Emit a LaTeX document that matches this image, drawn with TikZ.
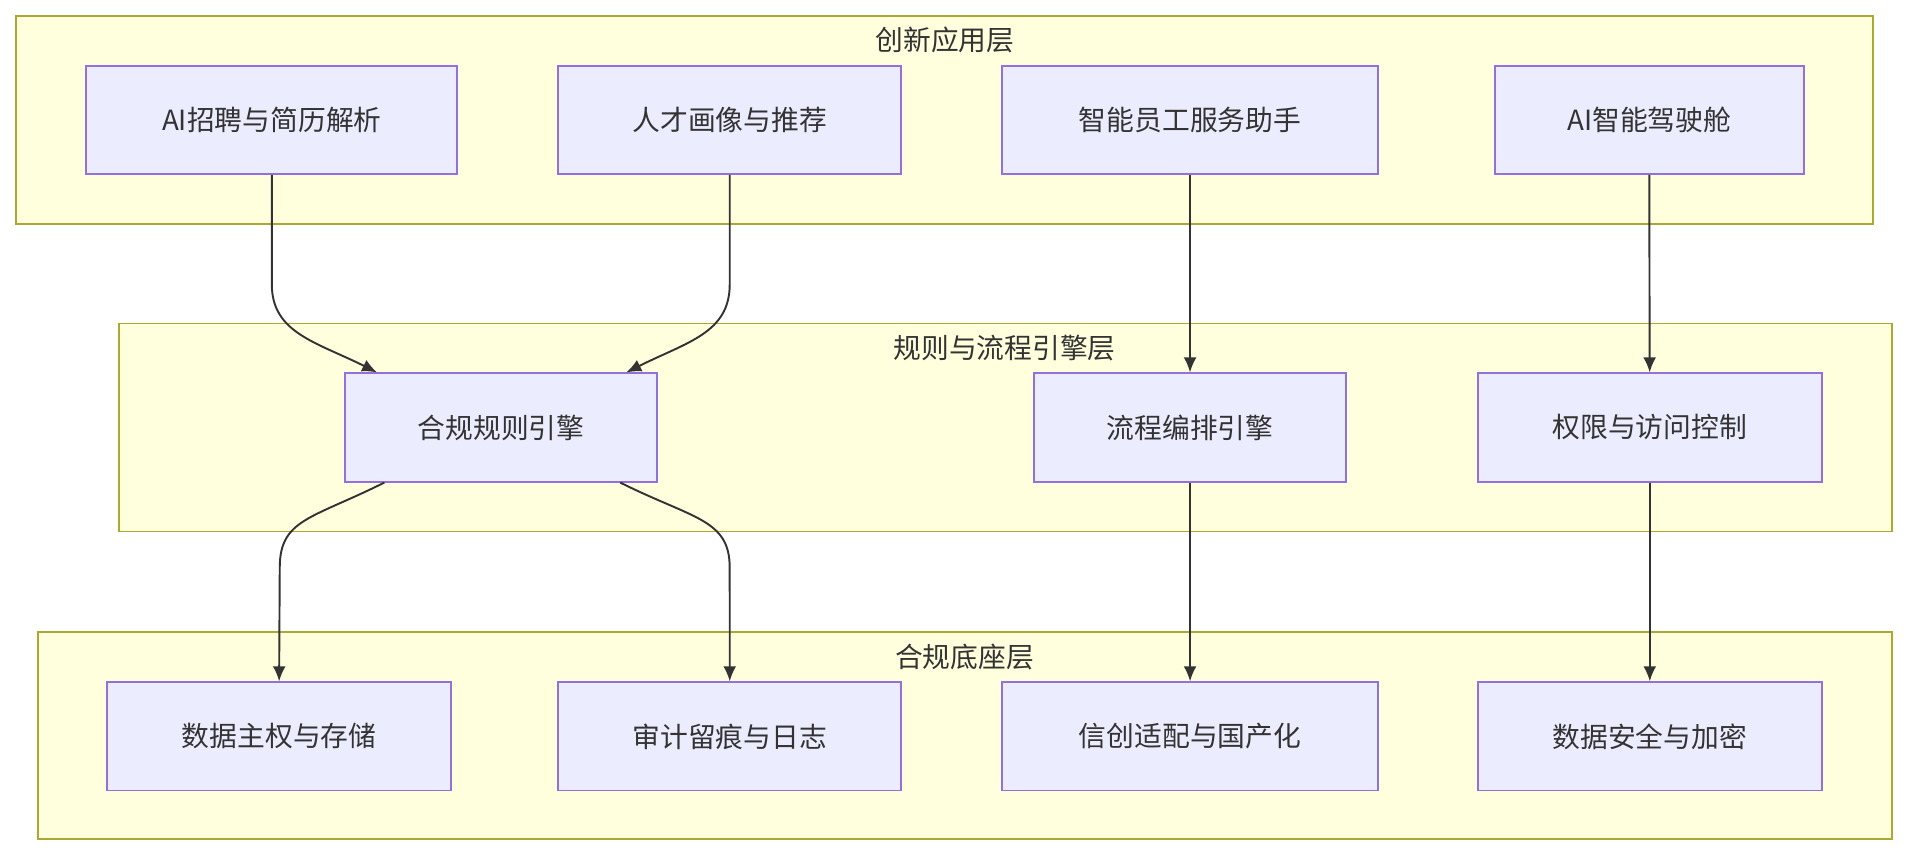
\documentclass[tikz,border=0pt]{standalone}
\usepackage{fontspec}
\setmainfont{Noto Sans CJK SC}
\usetikzlibrary{arrows.meta}
\definecolor{layerfill}{HTML}{FFFFDE}
\definecolor{layerdraw}{HTML}{AAAA33}
\definecolor{boxfill}{HTML}{ECECFF}
\definecolor{boxdraw}{HTML}{9370DB}
\definecolor{ink}{HTML}{333333}
\tikzset{
  layer/.style={draw=layerdraw, fill=layerfill, line width=0.9pt},
  box/.style={draw=boxdraw, fill=boxfill, line width=0.9pt, text=ink,
    font=\fontsize{13pt}{15pt}\selectfont, inner sep=0pt, minimum height=1.78cm},
  title/.style={text=ink, font=\fontsize{13pt}{15pt}\selectfont},
  arr/.style={draw=ink, line width=0.9pt, -{Latex[length=7pt,width=6pt]}}
}
\begin{document}
\begin{tikzpicture}[x=0.02cm, y=-0.02cm]
\useasboundingbox (0,0) rectangle (1568,705);
% layers
\draw[layer] (13,13) rectangle (1540,184);
\node[title] (topT) at (777,33) {创新应用层};
\draw[layer] (98,266) rectangle (1556,437);
\node[title] (midT) at (826,286) {规则与流程引擎层};
\draw[layer] (31,520) rectangle (1556,690);
\node[title] (botT) at (793,540) {合规底座层};
% top row
\node[box, minimum width=6.1cm] (recruit) at (223.5,98.5) {AI招聘与简历解析};
\node[box, minimum width=5.64cm] (talent) at (600,98.5) {人才画像与推荐};
\node[box, minimum width=6.18cm] (assist) at (978.5,98.5) {智能员工服务助手};
\node[box, minimum width=5.08cm] (cockpit) at (1356,98.5) {AI智能驾驶舱};
% middle row
\node[box, minimum width=5.12cm] (rules) at (412,351.5) {合规规则引擎};
\node[box, minimum width=5.14cm] (flow) at (978.5,351.5) {流程编排引擎};
\node[box, minimum width=5.66cm] (access) at (1356.5,351.5) {权限与访问控制};
% bottom row
\node[box, minimum width=5.66cm] (store) at (229.5,605.5) {数据主权与存储};
\node[box, minimum width=5.64cm] (audit) at (600,605.5) {审计留痕与日志};
\node[box, minimum width=6.18cm] (local) at (978.5,605.5) {信创适配与国产化};
\node[box, minimum width=5.66cm] (crypt) at (1356.5,605.5) {数据安全与加密};
% connectors
\draw[arr] (recruit.south) -- ++(0,90) .. controls +(0,40) and +(-50,-25) .. ([xshift=-2.04cm]rules.north);
\draw[arr] (talent.south) -- ++(0,90) .. controls +(0,40) and +(50,-25) .. ([xshift=2.06cm]rules.north);
\draw[arr] (assist) -- (flow);
\draw[arr] (cockpit) -- (access);
\draw[arr] ([xshift=-1.92cm]rules.south) .. controls +(-60,30) and +(0,-40) .. ++(-86,70) -- (store.north);
\draw[arr] ([xshift=1.96cm]rules.south) .. controls +(60,30) and +(0,-40) .. ++(90,70) -- (audit.north);
\draw[arr] (flow) -- (local);
\draw[arr] (access) -- (crypt);
\end{tikzpicture}
\end{document}
